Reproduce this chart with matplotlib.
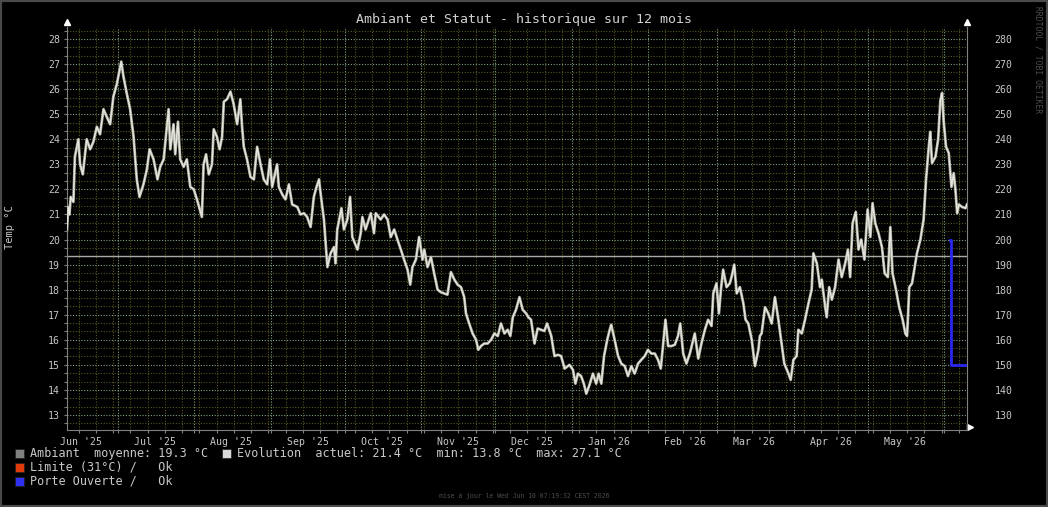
import matplotlib

matplotlib.use("Agg")
import matplotlib.pyplot as plt
import matplotlib.dates as mdates
from matplotlib.patches import Rectangle
from matplotlib.ticker import MultipleLocator, NullFormatter
import pandas as pd

W, H = 1048, 507
START = pd.Timestamp("2025-06-10 07:19:32")
END = pd.Timestamp("2026-06-10 07:19:32")

# ambient temperature: days since START and °C
days = [
    0.0, 0.5, 1.0, 1.5, 2.6, 3.2, 4.6, 5.3, 6.4, 8.0, 9.4, 10.7, 12.1, 13.4,
    14.8, 16.1, 17.5, 18.8, 20.2, 22.0, 22.9, 24.3, 25.6, 27.0, 28.3, 29.4,
    31.0, 32.4, 33.5, 35.1, 36.7, 37.8, 39.2, 41.2, 41.9, 43.2, 43.9, 45.0,
    45.9, 47.3, 48.6, 50.0, 51.4, 52.7, 54.7, 55.4, 56.4, 57.5, 58.8, 59.5,
    60.8, 61.9, 62.9, 63.6, 64.9, 66.3, 67.6, 69.0, 70.3, 71.0, 71.7, 73.0,
    74.4, 75.8, 77.1, 78.5, 79.8, 81.2, 82.3, 83.2, 85.2, 85.9, 87.3, 88.6,
    90.0, 91.3, 93.4, 94.7,
    96.1, 97.4, 98.8, 100.1, 101.2, 102.2, 102.9, 104.2, 105.6, 106.9, 108.3,
    108.9, 109.6, 111.3, 112.3, 113.7, 114.8, 115.7, 117.8, 119.1, 119.8,
    121.1, 123.2, 124.5, 125.2, 127.2, 128.6, 130.0, 131.3, 132.7, 134.0,
    135.4, 136.7, 138.1, 139.2, 140.1, 141.5, 142.8, 144.2, 144.9, 146.2,
    147.6, 148.9, 150.3, 151.6, 153.0, 154.3, 155.7, 157.1, 158.4, 159.8,
    161.1, 161.8, 163.1, 164.5, 165.9, 166.8, 167.9, 169.2, 170.6, 172.0,
    173.3, 174.7, 176.0, 177.4, 178.7, 179.8, 180.8, 182.1, 183.5, 184.8,
    186.2, 187.1, 188.2,
    189.6, 190.9, 192.3, 193.6, 194.7, 196.4, 197.7, 199.1, 200.4, 201.8,
    203.8, 205.2, 206.2, 207.2, 208.5, 209.6, 210.6, 211.9, 213.3, 214.6,
    215.6, 216.7, 217.8, 219.1, 220.1, 220.7, 222.1, 223.5, 224.8, 226.2,
    227.5, 228.9, 230.2, 231.6, 232.9, 234.3, 235.6, 237.0, 238.4, 239.7,
    240.8, 241.7, 242.7, 243.8, 245.1, 246.5, 247.8, 248.7, 249.9, 251.2,
    252.6, 254.6, 256.0, 257.3, 258.7, 260.0, 261.4, 262.1, 263.4, 264.4,
    265.2, 266.1, 267.5, 268.8, 269.5, 270.6, 271.6, 272.9, 274.3, 275.2,
    276.3, 277.7, 279.0, 280.4, 281.0, 281.7,
    283.1, 284.4, 285.8, 287.1, 288.5, 289.8, 290.9, 292.6, 293.5, 294.6,
    295.9, 296.6, 298.0, 299.3, 300.7, 302.0, 302.7, 304.1, 305.4, 306.1,
    307.5, 308.1, 309.1, 310.2, 311.5, 312.9, 314.2, 315.6, 316.7, 317.6,
    318.6, 319.9, 321.0, 322.1, 323.4, 324.7, 325.8, 326.7, 327.8, 329.1,
    330.5, 331.6, 332.9, 333.9, 334.8, 336.2, 337.5, 338.9, 340.0, 340.7,
    341.6, 342.7, 343.8, 344.7, 346.1, 347.4, 348.4, 349.5, 350.1, 350.8,
    352.2, 353.3, 354.2, 354.9, 355.6, 356.5, 357.6, 358.7, 359.6, 360.3,
    361.0, 361.7, 363.0, 364.4, 365.0,
]
temps = [
    20.4, 21.3, 21.0, 21.7, 21.5, 23.3, 24.0, 23.0, 22.6, 24.0, 23.6, 23.9, 24.5, 24.2,
    25.2, 24.9, 24.6, 25.7, 26.2, 27.1, 26.5, 25.8, 25.2, 24.1, 22.4, 21.7,
    22.2, 22.8, 23.6, 23.2, 22.4, 22.9, 23.2, 25.2, 23.6, 24.6, 23.4, 24.7,
    23.2, 22.9, 23.2, 22.1, 22.0, 21.6, 20.9, 23.0, 23.4, 22.6, 23.0, 24.4,
    24.1, 23.6, 24.1, 25.5, 25.6, 25.9, 25.4, 24.6, 25.6, 24.5, 23.7, 23.2,
    22.5, 22.4, 23.7, 23.0, 22.4, 22.2, 23.2, 22.1, 23.0, 22.1, 21.8, 21.6,
    22.2, 21.4, 21.3, 21.0,
    21.05, 20.9, 20.5, 21.7, 22.1, 22.4, 21.8, 20.8, 18.9, 19.45, 19.7,
    19.05, 20.4, 21.25, 20.4, 20.8, 21.7, 20.1, 19.6, 20.25, 20.9,
    20.4, 21.05, 20.25, 21.05, 20.8, 21.0, 20.8, 20.1, 20.4, 20.0,
    19.6, 19.2, 18.8, 18.2, 18.9, 19.2, 20.1, 19.2, 19.6, 18.9,
    19.3, 18.65, 18.0, 17.9, 17.85, 17.8, 18.7, 18.4, 18.2, 18.1,
    17.7, 17.05, 16.65, 16.25, 16.0, 15.6, 15.75, 15.85, 15.85, 16.0,
    16.25, 16.15, 16.65, 16.25, 16.4, 16.15, 16.9, 17.2, 17.7, 17.2,
    17.05, 16.9, 16.8,
    15.85, 16.45, 16.4, 16.35, 16.65, 16.15, 15.35, 15.4, 15.35, 14.85,
    15.0, 14.8, 14.25, 14.65, 14.55, 14.25, 13.85, 14.2, 14.65, 14.25,
    14.65, 14.25, 15.35, 16.0, 16.4, 16.6, 16.0, 15.35, 15.05, 14.95,
    14.55, 14.95, 14.65, 15.05, 15.2, 15.35, 15.6, 15.45, 15.45, 15.2,
    14.85, 15.75, 16.8, 15.75, 15.75, 15.8, 16.15, 16.65, 15.45, 15.05,
    15.45, 16.25, 15.25, 15.85, 16.4, 16.8, 16.55, 17.85, 18.25, 17.05,
    18.0, 18.8, 18.1, 18.25, 18.5, 19.0, 17.85, 18.1, 17.45, 16.8,
    16.65, 16.0, 14.95, 15.6, 16.15, 16.25,
    17.3, 17.05, 16.65, 17.7, 16.8, 15.85, 15.05, 14.65, 14.4, 15.2,
    15.35, 16.4, 16.25, 16.8, 17.45, 18.0, 19.45, 19.05, 18.1, 18.4,
    17.3, 16.9, 18.1, 17.6, 18.1, 19.2, 18.5, 19.05, 19.6, 18.5,
    20.65, 21.1, 19.6, 20.0, 19.2, 21.2, 20.1, 21.45, 20.65, 20.25,
    19.7, 18.65, 18.5, 20.5, 18.65, 18.0, 17.3, 16.8, 16.25, 16.15,
    18.1, 18.25, 18.9, 19.45, 20.0, 20.8, 22.4, 23.7, 24.3, 23.05,
    23.3, 24.0, 25.55, 25.85, 24.65, 23.7, 23.45, 22.1, 22.65, 22.0,
    21.05, 21.4, 21.3, 21.25, 21.4,
]

# door status (right axis /10): days since START and level
door_days = [358.3, 358.35, 365.0]
door_vals = [20.0, 15.0, 15.0]

avg_temp = 19.33

month_labels = ["Jun '25", "Jul '25", "Aug '25", "Sep '25", "Oct '25", "Nov '25",
                "Dec '25", "Jan '26", "Feb '26", "Mar '26", "Apr '26", "May '26"]
month_starts = ["2025-06-01", "2025-07-01", "2025-08-01", "2025-09-01", "2025-10-01",
                "2025-11-01", "2025-12-01", "2026-01-01", "2026-02-01", "2026-03-01",
                "2026-04-01", "2026-05-01"]

legend_rows = [
    ("#808080", "Ambiant  moyenne: 19.3 °C"),
    ("#e03c0a", "Limite (31°C) /   Ok"),
    ("#3030f0", "Porte Ouverte /   Ok"),
]
evol_text = "Evolution  actuel: 21.4 °C  min: 13.8 °C  max: 27.1 °C"

plt.rcParams["font.family"] = ["DejaVu Sans Mono", "DejaVu Sans"]

TXT = "#c8c8c8"
MAJOR = "#7f9f7f"
MINOR = "#55551f"

fig = plt.figure(figsize=(W / 100, H / 100), dpi=100, facecolor="black")
ax = fig.add_axes([67 / W, (H - 430) / H, 900 / W, 403 / H])
ax.set_facecolor("black")

t = START + pd.to_timedelta(days, unit="D")
ax.plot(t, temps, color="#a4a498", lw=2.0, zorder=3)
ax.plot(t, temps, color="#e6e6e0", lw=1.0, zorder=4)
ax.axhline(avg_temp, color="#a8a8a8", lw=1.0, zorder=2)

td = START + pd.to_timedelta(door_days, unit="D")
ax.plot(td, door_vals, color="#2828f0", lw=2.0, drawstyle="steps-post", zorder=5)

ax.set_xlim(START, END)
ax.set_ylim(12.40, 28.48)

ax.xaxis.set_major_locator(mdates.MonthLocator())
ax.xaxis.set_minor_locator(mdates.WeekdayLocator(byweekday=mdates.SU))
ax.xaxis.set_major_formatter(NullFormatter())
ax.set_yticks(range(13, 29))
ax.yaxis.set_minor_locator(MultipleLocator(1 / 3))

dots = (0, (1, 1.5))
ax.grid(which="minor", color=MINOR, lw=0.8, linestyle=dots, zorder=1)
ax.grid(which="major", color=MAJOR, lw=0.8, linestyle=dots, zorder=1)
ax.set_axisbelow(True)

ax.tick_params(axis="both", which="both", colors="#808080", labelcolor=TXT,
               labelsize=7.1, length=2, width=0.8)
ax.tick_params(axis="y", pad=3)
for side in ("left", "bottom", "right"):
    ax.spines[side].set_color("#808080")
    ax.spines[side].set_linewidth(0.8)
ax.spines["top"].set_visible(False)

for lab, ms in zip(month_labels, month_starts):
    x = pd.Timestamp(ms) + pd.Timedelta(days=15)
    ax.text(x, -0.018, lab, transform=ax.get_xaxis_transform(), ha="center",
            va="top", fontsize=7.1, color=TXT)

ax2 = ax.twinx()
lo, hi = ax.get_ylim()
ax2.set_ylim(lo * 10, hi * 10)
ax2.set_yticks(range(130, 290, 10))
ax2.tick_params(axis="y", colors="#808080", labelcolor=TXT, labelsize=7.1,
                length=0, pad=20)
for s in ax2.spines.values():
    s.set_visible(False)

# axis arrows
for xa, ya, m in ((0, 1.0124, "^"), (1, 1.0124, "^"), (1.0033, 0.0074, ">")):
    ax.plot([xa], [ya], marker=m, ms=4.5, color="white", mec="white",
            transform=ax.transAxes, clip_on=False)

fig.text(0.5, 1 - 19 / H, "Ambiant et Statut - historique sur 12 mois",
         ha="center", va="center", fontsize=9.5, color="#d0d0d0")
fig.text(10 / W, 1 - 227 / H, "Temp °C", rotation=90, ha="center", va="center",
         fontsize=7.5, color=TXT)
fig.text(1038 / W, 1 - 60 / H, "RRDTOOL / TOBI OETIKER", rotation=270,
         ha="center", va="center", fontsize=5.8, color="#4c4c4c")
fig.text(0.5, 1 - 496 / H, "mise à jour le Wed Jun 10 07:19:32 CEST 2026",
         ha="center", va="center", fontsize=4.7, color="#4c4c4c")

# legend
row_y = [453.5, 467.5, 481.5]
for (col, txt), y in zip(legend_rows, row_y):
    fig.patches.append(Rectangle((15 / W, 1 - (y + 4.5) / H), 9 / W, 9 / H,
                                 transform=fig.transFigure, facecolor=col,
                                 edgecolor="#202020", lw=0.5))
    fig.text(30 / W, 1 - y / H, txt, ha="left", va="center", fontsize=8.5, color=TXT)
fig.patches.append(Rectangle((222 / W, 1 - (row_y[0] + 4.5) / H), 9 / W, 9 / H,
                             transform=fig.transFigure, facecolor="#d8d8d8",
                             edgecolor="#202020", lw=0.5))
fig.text(237 / W, 1 - row_y[0] / H, evol_text, ha="left", va="center",
         fontsize=8.5, color=TXT)

fig.patches.append(Rectangle((0, 0), 1, 1, transform=fig.transFigure, fill=False,
                             edgecolor="#4a4a4a", lw=3))

fig.savefig("out.png", dpi=100, facecolor="black")
